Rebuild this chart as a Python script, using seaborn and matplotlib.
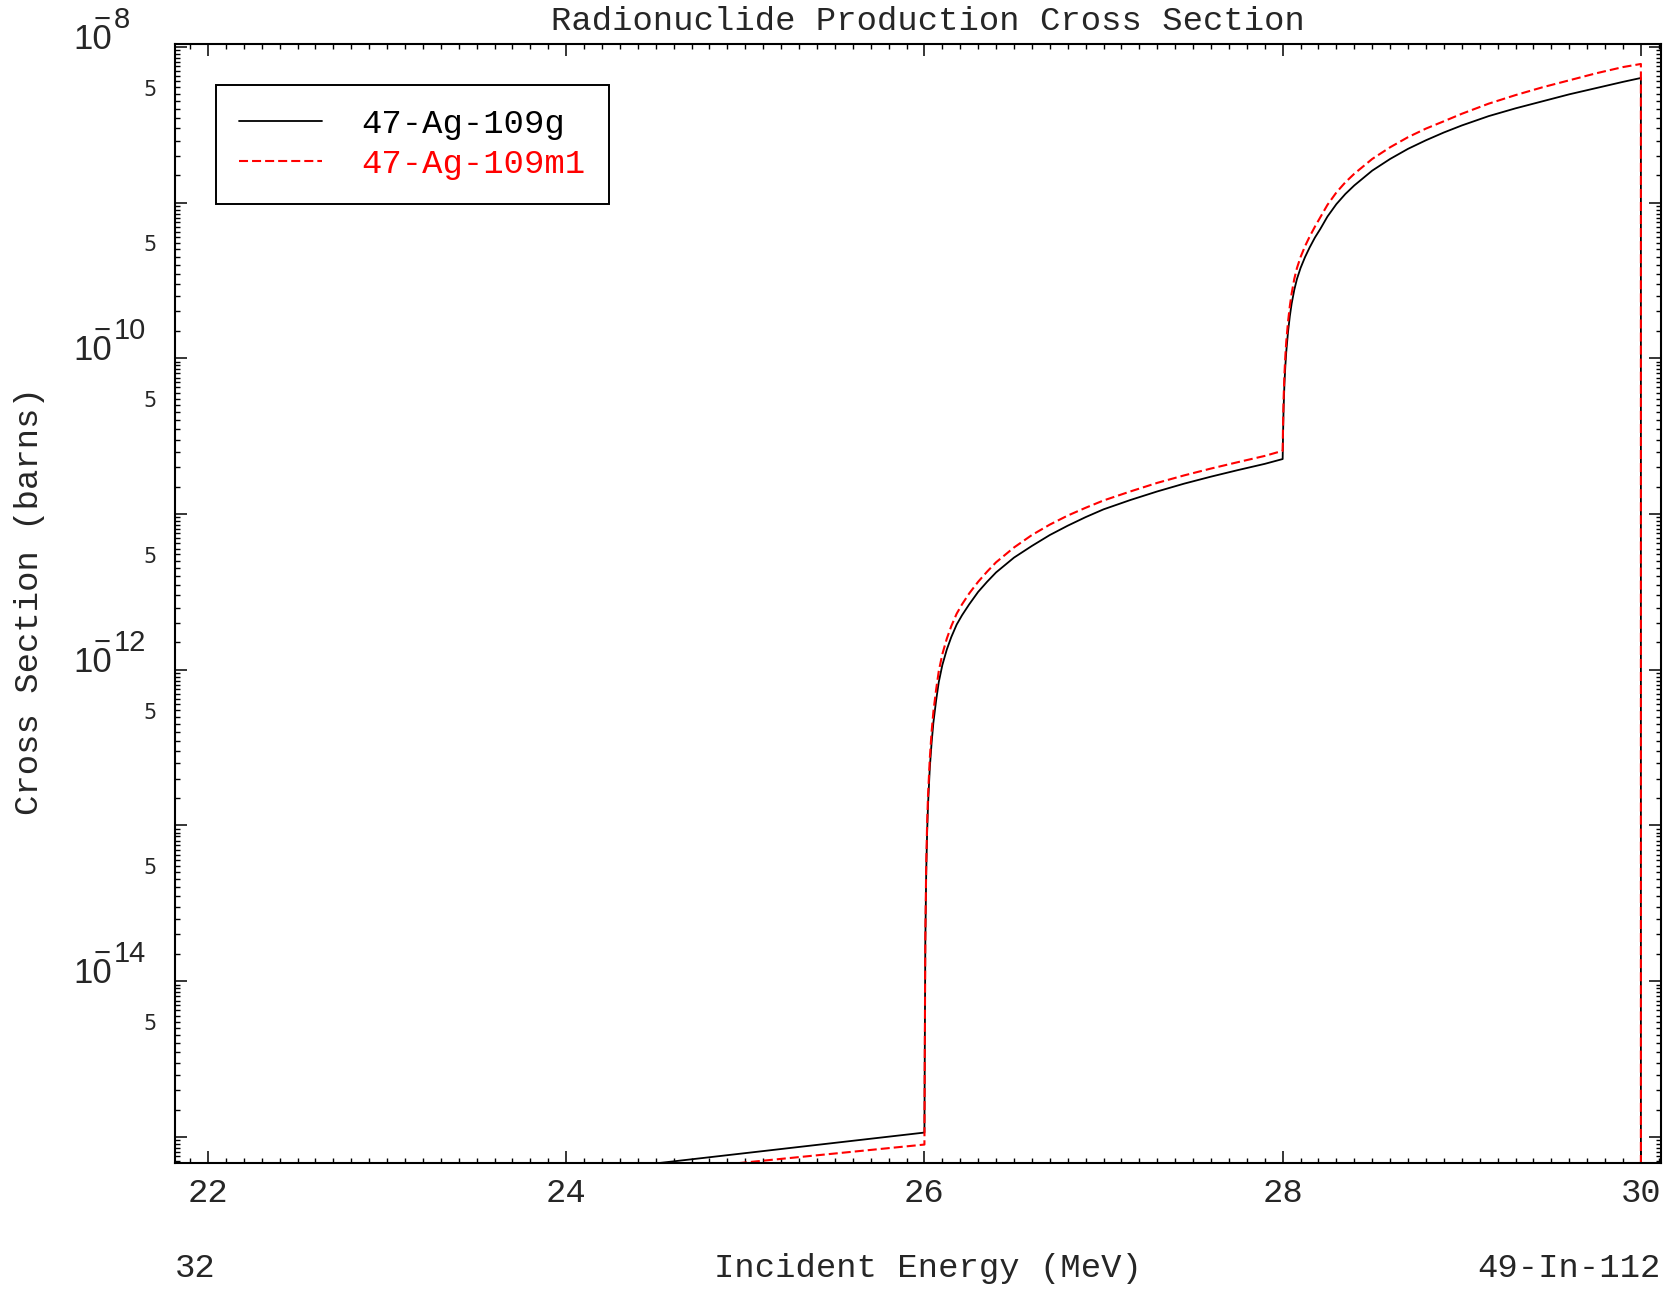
import numpy as np
import pandas as pd
import matplotlib
matplotlib.use("Agg")
import matplotlib.pyplot as plt
import matplotlib.ticker as mticker
from matplotlib.transforms import offset_copy
import seaborn as sns

# Incident energies (MeV) shared by both product states
energy_mev = [23.0, 24.0, 25.0,
              26.000, 26.002, 26.005, 26.010, 26.015, 26.020, 26.030, 26.040,
              26.050, 26.065, 26.080, 26.100, 26.125, 26.150, 26.180, 26.210,
              26.250, 26.300, 26.350, 26.400, 26.500, 26.600, 26.700, 26.800,
              26.900, 27.000, 27.150, 27.300, 27.450, 27.600, 27.750, 27.900,
              28.000, 28.002, 28.005, 28.010, 28.015, 28.020, 28.030, 28.040,
              28.050, 28.065, 28.080, 28.100, 28.125, 28.150, 28.180, 28.210,
              28.250, 28.300, 28.350, 28.400, 28.500, 28.600, 28.700, 28.800,
              28.900, 29.000, 29.150, 29.300, 29.450, 29.600, 29.750, 29.900,
              30.000, 30.000]

# log10 of the production cross section (barns)
ag109g_log10_barns = [-15.368, -15.236, -15.104,
                      -14.972, -14.45, -13.75, -13.30, -13.05, -12.87, -12.63, -12.47,
                      -12.34, -12.20, -12.08, -11.97, -11.87, -11.79, -11.71, -11.65,
                      -11.58, -11.50, -11.435, -11.375, -11.28, -11.205, -11.135, -11.075,
                      -11.02, -10.97, -10.91, -10.855, -10.805, -10.76, -10.718, -10.678,
                      -10.647, -10.50, -10.33, -10.16, -10.05, -9.96, -9.83, -9.73,
                      -9.65, -9.56, -9.49, -9.42, -9.35, -9.29, -9.225, -9.17,
                      -9.09, -9.01, -8.945, -8.89, -8.795, -8.72, -8.655, -8.60,
                      -8.55, -8.505, -8.445, -8.395, -8.35, -8.305, -8.265, -8.225,
                      -8.200, -17.0]
ag109m1_log10_barns = [-15.394, -15.279, -15.164,
                       -15.049, -14.45, -13.72, -13.25, -12.99, -12.81, -12.57, -12.40,
                       -12.27, -12.13, -12.01, -11.90, -11.80, -11.72, -11.64, -11.58,
                       -11.51, -11.435, -11.37, -11.31, -11.215, -11.135, -11.068, -11.01,
                       -10.96, -10.913, -10.855, -10.80, -10.752, -10.708, -10.667, -10.627,
                       -10.594, -10.44, -10.27, -10.10, -9.985, -9.895, -9.765, -9.665,
                       -9.585, -9.49, -9.42, -9.35, -9.28, -9.22, -9.155, -9.095,
                       -9.015, -8.935, -8.87, -8.815, -8.72, -8.645, -8.58, -8.525,
                       -8.478, -8.43, -8.365, -8.31, -8.26, -8.215, -8.17, -8.13,
                       -8.110, -17.0]

series_labels = ["47-Ag-109g", "47-Ag-109m1"]
series_colors = ["black", "red"]

x_major_ticks = [22, 24, 26, 28, 30]
decade_label_exponents = [-8, -10, -12, -14]
five_label_exponents = [-9, -10, -11, -12, -13, -14, -15]

title_text = "Radionuclide Production Cross Section"
xlabel_text = "Incident Energy (MeV)"
ylabel_text = "Cross Section (barns)"
left_note = "32"
right_note = "49-In-112"

sns.set_style("ticks")
plt.rcParams["font.family"] = ["Liberation Mono", "DejaVu Sans"]
plt.rcParams["lines.scale_dashes"] = False
plt.rcParams["axes.linewidth"] = 1.5

MONO = "Liberation Mono"
MAIN_SIZE = 24.4

fig = plt.figure(figsize=(16.73, 12.91), dpi=100)
ax = fig.add_axes([0.1046, 0.0992, 0.8882, 0.8667])

df_g = pd.DataFrame({"energy": energy_mev, "xs": np.power(10.0, ag109g_log10_barns)})
df_m = pd.DataFrame({"energy": energy_mev, "xs": np.power(10.0, ag109m1_log10_barns)})

sns.lineplot(data=df_g, x="energy", y="xs", color=series_colors[0], lw=1.3,
             estimator=None, sort=False, label=series_labels[0], ax=ax)
sns.lineplot(data=df_m, x="energy", y="xs", color=series_colors[1], lw=1.5,
             estimator=None, sort=False, label=series_labels[1], ax=ax)
ax.lines[1].set_dashes((6.5, 2.9))

ax.set_yscale("log")
ax.set_xlim(21.816, 30.112)
ax.set_ylim(10 ** -15.167, 10 ** -7.982)
ax.set_xlabel("")
ax.set_ylabel("")

# Ticks on all four sides, pointing inward
ax.xaxis.set_major_locator(mticker.FixedLocator(x_major_ticks))
ax.xaxis.set_minor_locator(mticker.MultipleLocator(0.1))
ax.yaxis.set_major_locator(mticker.LogLocator(base=10, numticks=30))
ax.yaxis.set_minor_locator(mticker.LogLocator(base=10, subs=np.arange(1.5, 10, 0.5), numticks=200))
ax.yaxis.set_major_formatter(mticker.NullFormatter())
ax.yaxis.set_minor_formatter(mticker.NullFormatter())
ax.tick_params(which="both", direction="in", top=True, right=True, color="black")
ax.tick_params(which="major", length=8.6, width=1.1)
ax.tick_params(which="minor", length=3.6, width=1.0)
ax.tick_params(axis="x", which="major", pad=11, labelsize=MAIN_SIZE)
for lab in ax.get_xticklabels():
    lab.set_fontfamily(MONO)
for sp in ax.spines.values():
    sp.set_visible(True)
    sp.set_color("black")
    sp.set_linewidth(1.5)

# Custom y labels: 10^-n on even decades, "5" at mid-decades
ytrans = ax.get_yaxis_transform()
base_tr = offset_copy(ytrans, fig=fig, x=-63, y=-2, units="dots")
minus_tr = offset_copy(ytrans, fig=fig, x=-81, y=19, units="dots")
exp_tr = offset_copy(ytrans, fig=fig, x=-61, y=19, units="dots")
five_tr = offset_copy(ytrans, fig=fig, x=-18, y=4, units="dots")
for e in decade_label_exponents:
    ax.text(0, 10.0 ** e, "10", transform=base_tr, ha="right", va="baseline",
            fontsize=25, family="Liberation Sans", clip_on=False)
    ax.text(0, 10.0 ** e, "\u2212", transform=minus_tr, ha="left", va="baseline",
            fontsize=21, family="Liberation Sans", clip_on=False)
    ax.text(0, 10.0 ** e, str(-e), transform=exp_tr, ha="left", va="baseline",
            fontsize=21, family="Liberation Sans", clip_on=False)
for e in five_label_exponents:
    ax.text(0, 5 * 10.0 ** e, "5", transform=five_tr, ha="right", va="center",
            fontsize=15, family="DejaVu Sans", clip_on=False)

# Legend
leg = ax.legend(loc="upper left", bbox_to_anchor=(0.0273, 0.9634), borderaxespad=0,
                fancybox=False, shadow=False, framealpha=1, edgecolor="black",
                handlelength=2.45, handletextpad=1.15, borderpad=0.7, labelspacing=0.28,
                prop={"family": MONO, "size": MAIN_SIZE})
leg.get_frame().set_linewidth(1.4)
for txt, col in zip(leg.get_texts(), series_colors):
    txt.set_color(col)

# Titles and notes
fig.text(0.5547, 1 - 30 / 1291, title_text, ha="center", va="baseline",
         fontsize=MAIN_SIZE, family=MONO)
fig.text(0.5547, 1 - 1277 / 1291, xlabel_text, ha="center", va="baseline",
         fontsize=MAIN_SIZE, family=MONO)
fig.text(175 / 1673, 1 - 1277 / 1291, left_note, ha="left", va="baseline",
         fontsize=MAIN_SIZE, family=MONO)
fig.text(1661 / 1673, 1 - 1277 / 1291, right_note, ha="right", va="baseline",
         fontsize=MAIN_SIZE, family=MONO)
fig.text(30 / 1673, 1 - 601 / 1291, ylabel_text, ha="center", va="center",
         rotation=90, fontsize=MAIN_SIZE, family=MONO)

fig.savefig("out.png", dpi=100, facecolor="white")
